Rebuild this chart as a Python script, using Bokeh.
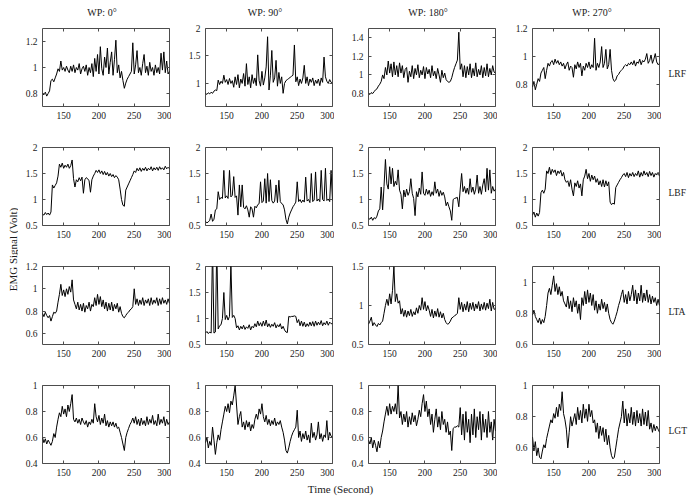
import math
from bokeh.plotting import figure
from bokeh.layouts import row, column
from bokeh.models import FixedTicker, Label, LinearAxis, CustomJSTickFormatter, Range1d
from bokeh.embed import file_html
from bokeh.resources import INLINE

# ---------------- data ----------------
time_s = list(range(120, 301, 2))

angles = ["WP: 0°", "WP: 90°", "WP: 180°", "WP: 270°"]
muscles = ["LRF", "LBF", "LTA", "LGT"]
x_ticks = [150, 200, 250, 300]

lrf_0 = [0.80, 0.79, 0.81, 0.78, 0.80, 0.82, 0.90, 0.91, 0.89, 0.92,
         0.95, 0.99, 0.97, 1.05, 0.98, 1.00, 0.97, 1.01, 0.98, 0.96,
         1.01, 0.97, 1.02, 0.96, 1.00, 0.98, 1.03, 0.95, 0.99, 1.01,
         0.97, 1.02, 0.94, 1.00, 0.96, 1.03, 0.93, 1.07, 0.97, 1.10,
         0.95, 1.16, 0.99, 0.94, 1.08, 1.00, 1.15, 0.95, 1.04, 1.12,
         0.94, 1.06, 1.21, 0.96, 1.02, 0.92, 0.97, 0.90, 0.84, 0.88,
         0.91, 0.93, 0.95, 0.97, 1.19, 0.95, 1.02, 1.13, 0.96, 1.00,
         0.94, 1.03, 1.10, 0.96, 1.01, 0.94, 1.04, 0.97, 1.00, 0.94,
         1.02, 0.96, 1.00, 0.95, 1.11, 0.98, 1.12, 0.96, 1.05, 0.95,
         0.97]
lrf_90 = [0.82, 0.80, 0.83, 0.81, 0.84, 0.82, 0.86, 0.88, 0.87, 1.06,
          0.98, 1.04, 1.00, 1.15, 1.02, 1.07, 0.98, 1.09, 1.00, 1.05,
          0.93, 1.12, 0.98, 1.16, 0.92, 1.08, 1.00, 1.18, 0.95, 1.36,
          0.98, 1.12, 0.92, 1.16, 1.00, 1.10, 0.96, 1.52, 1.05, 0.95,
          1.22, 0.97, 1.10, 1.30, 1.85, 0.88, 1.15, 1.60, 1.02, 1.10,
          1.42, 0.95, 1.20, 1.00, 1.12, 0.82, 1.00, 1.05, 1.07, 1.09,
          1.11, 1.13, 1.15, 1.70, 1.03, 1.12, 0.96, 1.08, 1.00, 1.10,
          1.33, 1.00, 1.12, 0.96, 1.08, 1.02, 1.10, 0.96, 1.06, 1.00,
          1.08, 0.96, 1.10, 1.02, 1.48, 1.12, 1.04, 1.00, 1.07, 1.02,
          1.00]
lrf_180 = [0.80, 0.79, 0.81, 0.80, 0.82, 0.84, 0.85, 0.88, 0.90, 0.93,
           1.00, 0.96, 1.08, 1.00, 1.15, 1.02, 1.12, 0.98, 1.14, 1.00,
           1.10, 0.98, 1.13, 1.02, 1.10, 0.97, 1.06, 1.08, 0.92, 1.04,
           0.98, 1.10, 0.96, 1.07, 1.00, 1.11, 0.97, 1.05, 1.00, 1.09,
           0.96, 1.08, 1.01, 1.06, 0.97, 1.10, 0.99, 1.04, 0.96, 1.07,
           1.00, 0.92, 1.05, 0.97, 1.02, 0.95, 0.93, 0.92, 0.93, 0.97,
           1.03, 1.08, 1.12, 1.16, 1.46, 1.06, 1.12, 0.98, 1.10, 0.97,
           1.09, 1.00, 1.12, 0.97, 1.07, 0.99, 1.13, 0.98, 1.06, 1.00,
           1.10, 0.97, 1.08, 0.99, 1.12, 0.98, 1.07, 1.00, 1.10, 1.03,
           1.02]
lrf_270 = [0.78, 0.82, 0.76, 0.80, 0.84, 0.82, 0.88, 0.90, 0.92, 0.84,
           0.90, 0.95, 0.93, 0.96, 0.97, 0.94, 0.98, 0.95, 0.97, 0.94,
           0.96, 0.93, 0.95, 0.91, 0.94, 0.96, 0.90, 0.93, 0.92, 0.85,
           0.94, 0.91, 0.96, 0.92, 0.95, 0.86, 0.93, 0.90, 0.95, 0.92,
           0.96, 0.91, 0.94, 0.92, 1.13, 0.90, 0.95, 0.92, 0.96, 1.07,
           0.92, 0.95, 1.05, 0.91, 0.94, 1.05, 0.90, 0.84, 0.82, 0.83,
           0.86, 0.87, 0.89, 0.90, 0.91, 0.93, 0.94, 0.93, 0.95, 0.94,
           0.96, 0.94, 0.97, 0.93, 0.96, 0.95, 0.98, 0.94, 0.97, 0.96,
           0.98, 1.02, 0.95, 0.97, 1.01, 0.95, 0.98, 1.02, 0.96, 0.94,
           0.95]

lbf_0 = [0.72, 0.70, 0.75, 0.71, 0.74, 0.70, 0.76, 1.28, 1.22, 1.27,
         1.32, 1.45, 1.68, 1.62, 1.70, 1.60, 1.66, 1.62, 1.68, 1.60,
         1.65, 1.76, 1.40, 1.24, 1.38, 1.34, 1.42, 1.36, 1.43, 1.12,
         1.38, 1.42, 1.40, 1.36, 1.14, 1.38, 1.45, 1.50, 1.56, 1.52,
         1.57, 1.50, 1.55, 1.48, 1.54, 1.47, 1.52, 1.45, 1.50, 1.44,
         1.48, 1.42, 1.46, 1.43, 1.38, 1.20, 1.00, 0.89, 0.87, 1.18,
         1.24, 1.30, 1.36, 1.42, 1.48, 1.55, 1.52, 1.60, 1.55, 1.61,
         1.54, 1.60, 1.56, 1.62, 1.55, 1.60, 1.57, 1.63, 1.55, 1.61,
         1.57, 1.62, 1.56, 1.63, 1.58, 1.61, 1.57, 1.64, 1.59, 1.62,
         1.59]
lbf_90 = [0.58, 0.55, 0.57, 0.60, 0.72, 0.58, 0.62, 0.80, 0.82, 1.15,
          1.00, 1.04, 1.02, 1.56, 1.03, 1.07, 1.02, 1.56, 1.05, 1.08,
          1.44, 1.04, 1.07, 0.70, 1.28, 0.86, 1.28, 0.85, 0.82, 0.88,
          0.80, 0.66, 0.86, 0.82, 0.66, 0.87, 0.84, 0.90, 0.92, 1.34,
          0.94, 0.97, 1.40, 0.93, 1.50, 0.96, 1.38, 0.98, 0.93, 0.97,
          1.28, 0.94, 1.37, 0.96, 0.92, 0.90, 0.80, 0.62, 0.53, 0.66,
          0.74, 0.80, 0.86, 0.90, 0.95, 1.34, 0.96, 1.00, 0.94, 0.99,
          0.95, 1.43, 0.97, 1.00, 0.94, 1.50, 0.96, 0.99, 1.53, 0.97,
          1.01, 0.96, 1.56, 1.00, 0.97, 1.60, 0.98, 1.01, 0.96, 1.56,
          0.98]
lbf_180 = [0.64, 0.62, 0.66, 0.60, 0.65, 0.63, 0.68, 0.78, 0.82, 1.24,
           0.80, 1.25, 1.77, 1.30, 1.20, 1.63, 1.30, 1.60, 1.25, 1.35,
           1.28, 1.57, 1.18, 1.10, 0.82, 1.18, 1.05, 1.20, 1.08, 1.15,
           1.40, 1.12, 1.02, 0.69, 1.15, 1.05, 1.22, 1.10, 1.53, 1.12,
           1.08, 1.20, 1.10, 1.18, 1.06, 1.15, 1.08, 1.34, 1.12, 1.20,
           1.06, 1.17, 1.08, 1.14, 1.05, 0.88, 0.95, 0.86, 0.78, 0.60,
           1.00, 1.02, 1.03, 1.04, 0.86, 1.20, 1.50, 1.15, 1.25, 1.12,
           1.22, 1.10, 1.40, 1.14, 1.24, 1.10, 1.20, 1.47, 1.12, 1.25,
           1.10, 1.28, 1.40, 1.15, 1.60, 1.18, 1.57, 1.12, 1.25, 1.16,
           1.20]
lbf_270 = [0.70, 0.76, 0.66, 0.74, 0.68, 0.75, 1.13, 1.18, 1.12, 1.20,
           1.55, 1.50, 1.62, 1.48, 1.58, 1.52, 1.57, 1.46, 1.55, 1.50,
           1.56, 1.45, 1.52, 1.38, 1.33, 1.36, 1.25, 1.38, 1.20, 1.07,
           1.32, 1.25, 1.36, 1.22, 1.30, 1.07, 1.38, 1.45, 1.58, 1.40,
           1.50, 1.35, 1.47, 1.38, 1.45, 1.33, 1.40, 1.28, 1.36, 1.25,
           1.38, 1.24, 1.36, 1.26, 1.34, 0.95, 0.90, 0.93, 0.91, 1.23,
           1.28, 1.33, 1.38, 1.42, 1.47, 1.50, 1.44, 1.52, 1.42, 1.50,
           1.45, 1.52, 1.44, 1.50, 1.46, 1.55, 1.43, 1.52, 1.45, 1.55,
           1.47, 1.52, 1.44, 1.54, 1.46, 1.52, 1.43, 1.50, 1.47, 1.52,
           1.45]

lta_0 = [0.78, 0.75, 0.79, 0.76, 0.74, 0.76, 0.71, 0.75, 0.79, 0.78,
         0.80, 0.88, 0.95, 1.04, 0.94, 0.99, 0.93, 1.00, 0.95, 1.02,
         0.97, 1.08, 0.90, 0.86, 0.82, 0.88, 0.81, 0.86, 0.80, 0.87,
         0.79, 0.85, 0.82, 0.88, 0.80, 0.86, 0.84, 0.92, 0.85, 0.95,
         0.86, 0.93, 0.84, 0.90, 0.82, 0.88, 0.80, 0.87, 0.81, 0.88,
         0.80, 0.86, 0.82, 0.87, 0.79, 0.84, 0.78, 0.75, 0.74, 0.76,
         0.78, 0.79, 0.81, 0.82, 0.84, 1.00, 0.86, 0.91, 0.85, 0.90,
         0.86, 0.92, 0.85, 0.90, 0.87, 0.91, 0.85, 0.92, 0.86, 0.90,
         0.87, 0.92, 0.85, 0.91, 0.86, 0.92, 0.87, 0.90, 0.86, 0.91,
         0.87]
lta_90 = [0.72, 0.75, 0.71, 0.74, 0.72, 2.40, 0.72, 0.74, 2.40, 0.80,
          0.86, 0.88, 1.00, 1.50, 0.98, 1.06, 0.97, 1.04, 2.05, 1.02,
          1.06, 1.00, 0.82, 0.86, 0.78, 0.85, 0.80, 0.87, 0.79, 0.84,
          0.81, 0.88, 0.78, 0.85, 0.82, 0.90, 0.84, 0.95, 0.86, 0.92,
          0.85, 0.95, 0.86, 0.97, 0.84, 0.90, 0.83, 0.89, 0.85, 0.92,
          0.82, 0.88, 0.84, 0.90, 0.80, 0.85, 0.78, 0.74, 0.73, 1.04,
          1.03, 1.04, 1.04, 1.05, 1.04, 0.92, 0.98, 0.86, 0.95, 0.85,
          0.93, 0.84, 0.90, 0.85, 0.93, 0.86, 0.94, 0.85, 0.95, 0.87,
          0.93, 0.88, 0.96, 0.86, 0.92, 0.88, 0.95, 0.87, 0.93, 0.90,
          0.90]
lta_180 = [0.76, 0.80, 0.85, 0.74, 0.78, 0.75, 0.73, 0.77, 0.75, 0.78,
           0.80, 0.90, 1.00, 1.08, 1.00, 1.15, 1.02, 1.19, 1.50, 1.05,
           1.15, 1.03, 1.06, 0.89, 0.96, 0.86, 0.94, 0.85, 0.93, 0.87,
           0.95, 0.86, 0.92, 0.88, 0.97, 0.90, 1.00, 0.94, 1.10, 0.95,
           1.05, 0.93, 1.00, 0.94, 0.86, 0.95, 0.84, 0.93, 0.86, 0.96,
           0.85, 0.92, 0.84, 0.90, 0.82, 0.78, 0.76, 0.77, 0.80, 0.84,
           0.85, 0.87, 0.88, 0.90, 1.10, 0.95, 1.04, 0.92, 1.02, 0.94,
           1.05, 0.92, 1.03, 0.95, 1.04, 0.93, 1.02, 0.96, 1.05, 0.93,
           1.02, 0.95, 1.04, 0.94, 1.03, 0.96, 1.08, 0.93, 1.04, 0.95,
           0.96]
lta_270 = [0.79, 0.82, 0.78, 0.76, 0.74, 0.77, 0.73, 0.76, 0.74, 0.78,
           0.85, 0.93, 0.96, 0.92, 0.98, 1.04, 0.94, 0.99, 0.92, 0.97,
           0.91, 0.94, 0.88, 0.86, 0.84, 0.91, 0.83, 0.88, 0.81, 0.90,
           0.84, 0.88, 0.80, 0.86, 0.76, 0.90, 0.85, 0.94, 0.86, 0.95,
           0.87, 0.93, 0.85, 0.92, 0.82, 0.88, 0.80, 0.86, 0.82, 0.89,
           0.83, 0.87, 0.81, 0.86, 0.80, 0.76, 0.74, 0.73, 0.75, 0.78,
           0.81, 0.85, 0.88, 0.92, 0.95, 0.87, 0.92, 0.86, 0.94, 0.88,
           0.92, 0.98, 0.88, 0.95, 0.86, 0.93, 0.88, 0.98, 0.87, 0.93,
           0.88, 0.95, 0.87, 0.92, 0.86, 0.91, 0.87, 0.90, 0.85, 0.89,
           0.85]

lgt_0 = [0.60, 0.56, 0.59, 0.55, 0.58, 0.56, 0.54, 0.57, 0.63, 0.60,
         0.68, 0.74, 0.79, 0.76, 0.84, 0.78, 0.82, 0.76, 0.85, 0.80,
         0.86, 0.93, 0.74, 0.72, 0.75, 0.71, 0.74, 0.70, 0.75, 0.72,
         0.70, 0.73, 0.68, 0.72, 0.70, 0.74, 0.71, 0.86, 0.76, 0.72,
         0.77, 0.70, 0.75, 0.71, 0.78, 0.69, 0.73, 0.68, 0.72, 0.69,
         0.72, 0.68, 0.71, 0.67, 0.68, 0.64, 0.60, 0.55, 0.50, 0.60,
         0.64, 0.67, 0.70, 0.72, 0.75, 0.71, 0.76, 0.70, 0.74, 0.69,
         0.75, 0.70, 0.73, 0.69, 0.76, 0.70, 0.74, 0.71, 0.77, 0.70,
         0.73, 0.69, 0.78, 0.70, 0.74, 0.71, 0.76, 0.69, 0.74, 0.70,
         0.72]
lgt_90 = [0.56, 0.60, 0.52, 0.57, 0.54, 0.68, 0.58, 0.47, 0.56, 0.62,
          0.58, 0.66, 0.72, 0.78, 0.84, 0.80, 0.86, 0.79, 0.88, 0.85,
          0.92, 1.00, 0.85, 0.70, 0.76, 0.80, 0.68, 0.72, 0.66, 0.73,
          0.68, 0.72, 0.65, 0.70, 0.67, 0.74, 0.78, 0.74, 0.82, 0.78,
          0.86, 0.76, 0.72, 0.77, 0.70, 0.74, 0.69, 0.73, 0.70, 0.75,
          0.69, 0.72, 0.70, 0.73, 0.68, 0.64, 0.58, 0.50, 0.48, 0.52,
          0.57, 0.61, 0.64, 0.66, 0.68, 0.81, 0.60, 0.65, 0.57, 0.63,
          0.59, 0.65, 0.58, 0.62, 0.56, 0.71, 0.60, 0.64, 0.58, 0.62,
          0.72, 0.59, 0.63, 0.57, 0.62, 0.60, 0.73, 0.58, 0.64, 0.61,
          0.60]
lgt_180 = [0.58, 0.55, 0.60, 0.52, 0.58, 0.54, 0.49, 0.57, 0.52, 0.60,
           0.65, 0.72, 0.78, 0.84, 0.77, 0.86, 0.78, 0.84, 0.80, 0.86,
           0.78, 1.00, 0.75, 0.80, 0.70, 0.78, 0.72, 0.80, 0.68, 0.76,
           0.70, 0.79, 0.72, 0.77, 0.69, 0.74, 0.81, 0.76, 0.86, 0.93,
           0.80, 0.88, 0.76, 0.82, 0.70, 0.78, 0.64, 0.74, 0.82, 0.68,
           0.76, 0.66, 0.80, 0.70, 0.74, 0.64, 0.72, 0.62, 0.65, 0.50,
           0.67, 0.68, 0.68, 0.69, 0.68, 0.83, 0.62, 0.78, 0.58, 0.80,
           0.64, 0.74, 0.56, 0.78, 0.62, 0.82, 0.60, 0.76, 0.66, 0.80,
           0.58, 0.78, 0.64, 0.74, 0.60, 0.80, 0.64, 0.72, 0.58, 0.74,
           0.65]
lgt_270 = [0.67, 0.58, 0.64, 0.55, 0.60, 0.54, 0.53, 0.58, 0.62, 0.60,
           0.66, 0.70, 0.74, 0.78, 0.76, 0.82, 0.79, 0.86, 0.80, 0.88,
           0.84, 0.96, 0.82, 0.78, 0.72, 0.60, 0.70, 0.80, 0.74, 0.78,
           0.82, 0.75, 0.86, 0.78, 0.84, 0.76, 0.88, 0.79, 0.85, 0.77,
           0.88, 0.80, 0.84, 0.76, 0.78, 0.70, 0.76, 0.66, 0.74, 0.68,
           0.73, 0.64, 0.72, 0.62, 0.68, 0.60, 0.55, 0.53, 0.54, 0.60,
           0.66, 0.72, 0.76, 0.80, 0.90, 0.76, 0.85, 0.74, 0.82, 0.76,
           0.86, 0.75, 0.83, 0.74, 0.84, 0.76, 0.82, 0.74, 0.85, 0.75,
           0.83, 0.74, 0.84, 0.72, 0.76, 0.70, 0.75, 0.71, 0.74, 0.72,
           0.70]

signals = [
    [lrf_0, lrf_90, lrf_180, lrf_270],
    [lbf_0, lbf_90, lbf_180, lbf_270],
    [lta_0, lta_90, lta_180, lta_270],
    [lgt_0, lgt_90, lgt_180, lgt_270],
]

y_limits = [
    [(0.7, 1.3), (0.58, 2.0), (0.66, 1.5), (0.64, 1.2)],
    [(0.5, 2.0), (0.5, 2.0), (0.5, 2.0), (0.5, 2.0)],
    [(0.5, 1.2), (0.5, 2.0), (0.5, 1.5), (0.6, 1.1)],
    [(0.4, 1.0), (0.4, 1.0), (0.4, 1.0), (0.5, 1.0)],
]
y_tick_sets = [
    [[0.8, 1, 1.2], [1, 1.5, 2], [0.8, 1, 1.2, 1.4], [0.8, 1, 1.2]],
    [[0.5, 1, 1.5, 2], [0.5, 1, 1.5, 2], [0.5, 1, 1.5, 2], [0.5, 1, 1.5, 2]],
    [[0.6, 0.8, 1, 1.2], [0.5, 1, 1.5, 2], [0.5, 1, 1.5], [0.6, 0.8, 1]],
    [[0.4, 0.6, 0.8, 1], [0.4, 0.6, 0.8, 1], [0.4, 0.6, 0.8, 1], [0.6, 0.8, 1]],
]

for row_sig in signals:
    for s in row_sig:
        if len(s) != len(time_s):
            raise ValueError("length mismatch %d" % len(s))

# ---------------- styling / layout ----------------
FONT = "Liberation Serif"
TICK_SIZE = "9.5px"
BOX = "#4d4d4d"
TXT = "#1a1a1a"

FRAME_W, FRAME_H = 127, 78
LEFTS = [24, 34, 34, 35]
TOPS = [4, 6, 6, 6]
BOTTOMS = [35, 35, 35, 17]
HEADER_H = 24
YLAB_W = 18
RLAB_W = 32
XLAB_H = 21


def num_fmt():
    return CustomJSTickFormatter(code="return String(Math.round(tick*100)/100)")


def blank_fmt():
    return CustomJSTickFormatter(code="return ''")


def style_axis(ax, labels=True):
    ax.axis_line_color = None
    ax.major_tick_in = 3
    ax.major_tick_out = 0
    ax.minor_tick_in = 0
    ax.minor_tick_out = 0
    ax.major_tick_line_color = BOX
    ax.major_tick_line_width = 1
    if labels:
        ax.major_label_text_font = FONT
        ax.major_label_text_font_size = TICK_SIZE
        ax.major_label_text_color = TXT
        ax.major_label_standoff = 5
    else:
        ax.major_label_text_font_size = "0px"
        ax.major_label_standoff = 0


def bare_fig(w, h, xr, yr):
    f = figure(frame_width=w, frame_height=h, min_border=0,
               x_range=Range1d(*xr), y_range=Range1d(*yr),
               x_axis_type=None, y_axis_type=None,
               output_backend="svg", toolbar_location=None)
    f.outline_line_color = None
    return f


def make_panel(r, c):
    y0, y1 = y_limits[r][c]
    p = figure(
        frame_width=FRAME_W, frame_height=FRAME_H,
        min_border_left=LEFTS[c], min_border_right=2,
        min_border_top=TOPS[r], min_border_bottom=BOTTOMS[r],
        x_range=Range1d(120, 300), y_range=Range1d(y0, y1),
        x_axis_type=None, y_axis_type=None,
        output_backend="svg", toolbar_location=None,
    )
    p.outline_line_color = BOX
    p.outline_line_width = 1

    xb = LinearAxis(ticker=FixedTicker(ticks=x_ticks, minor_ticks=[]), formatter=num_fmt())
    style_axis(xb)
    p.add_layout(xb, "below")
    yl = LinearAxis(ticker=FixedTicker(ticks=y_tick_sets[r][c], minor_ticks=[]), formatter=num_fmt())
    style_axis(yl)
    p.add_layout(yl, "left")
    xt = LinearAxis(ticker=FixedTicker(ticks=x_ticks, minor_ticks=[]), formatter=blank_fmt())
    style_axis(xt, labels=False)
    p.add_layout(xt, "above")
    yr = LinearAxis(ticker=FixedTicker(ticks=y_tick_sets[r][c], minor_ticks=[]), formatter=blank_fmt())
    style_axis(yr, labels=False)
    p.add_layout(yr, "right")

    p.line(time_s, signals[r][c], line_color="black", line_width=1)
    return p


grid = column(*[row(*[make_panel(r, c) for c in range(4)]) for r in range(4)])

row_heights = [TOPS[r] + FRAME_H + BOTTOMS[r] for r in range(4)]
GRID_H = sum(row_heights)
col_widths = [LEFTS[c] + FRAME_W + 2 for c in range(4)]
TOTAL_W = YLAB_W + sum(col_widths) + RLAB_W

# column headers
header = bare_fig(TOTAL_W, HEADER_H, (0, TOTAL_W), (0, HEADER_H))
x_left = YLAB_W
for c in range(4):
    box_center = x_left + LEFTS[c] + FRAME_W / 2
    header.add_layout(Label(x=box_center - 4, y=HEADER_H - 12, text=angles[c],
                            text_align="center", text_baseline="middle",
                            text_font=FONT, text_font_size="10px", text_color=TXT))
    x_left += col_widths[c]

# left axis title
ylab = bare_fig(YLAB_W, GRID_H, (0, YLAB_W), (0, GRID_H))
ylab.add_layout(Label(x=12, y=GRID_H - (249 - HEADER_H), text="EMG Signal (Volt)",
                      angle=math.pi / 2, text_align="center", text_baseline="middle",
                      text_font=FONT, text_font_size="11px", text_color=TXT))

# row labels on the right
rlab = bare_fig(RLAB_W, GRID_H, (0, RLAB_W), (0, GRID_H))
y_top = 0
for r in range(4):
    center = y_top + TOPS[r] + FRAME_H / 2 + 6
    rlab.add_layout(Label(x=7, y=GRID_H - center, text=muscles[r],
                          text_align="left", text_baseline="middle",
                          text_font=FONT, text_font_size="9.5px", text_color=TXT))
    y_top += row_heights[r]

# bottom axis title
xlab = bare_fig(TOTAL_W, XLAB_H, (0, TOTAL_W), (0, XLAB_H))
xlab.add_layout(Label(x=340, y=XLAB_H - 8, text="Time (Second)",
                      text_align="center", text_baseline="middle",
                      text_font=FONT, text_font_size="11px", text_color=TXT))

layout = column(header, row(ylab, grid, rlab), xlab)

open("out.html", "w").write(file_html(layout, INLINE))
